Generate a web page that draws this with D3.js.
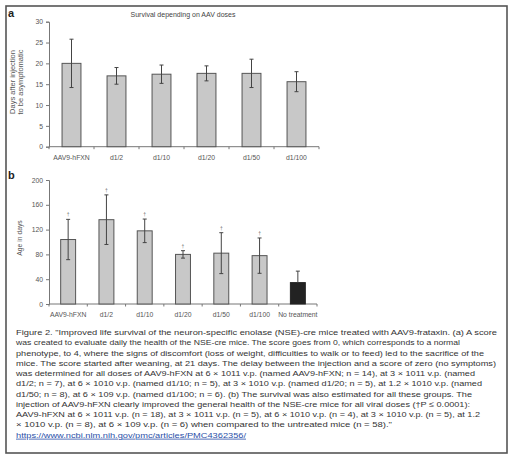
<!DOCTYPE html>
<html><head><meta charset="utf-8">
<script src="https://cdn.jsdelivr.net/npm/d3@7"></script>
<style>
html,body{margin:0;padding:0;background:#fff;}
svg{display:block;font-family:"Liberation Sans",Arial,sans-serif;}
</style></head>
<body>
<svg id="c" width="512" height="463"></svg>
<script>
// ---- data ----
const catsA = ["AAV9-hFXN","d1/2","d1/10","d1/20","d1/50","d1/100"];
const meanA = [20, 17.0, 17.4, 17.6, 17.6, 15.6];
const sdA   = [5.8, 2.0, 2.2, 1.8, 3.4, 2.4];
const ticksA = [0,5,10,15,20,25,30];

const catsB = ["AAV9-hFXN","d1/2","d1/10","d1/20","d1/50","d1/100","No treatment"];
const meanB = [104, 136, 118, 80, 82, 78, 34.5];
const sdB   = [32.5, 40, 19, 6, 33, 28.5, 18.5];
const sigB  = [true, true, true, true, true, true, false];
const ticksB = [0,40,80,120,160,200];

const captionLines = [
 'Figure 2. "Improved life survival of the neuron-specific enolase (NSE)-cre mice treated with AAV9-frataxin. (a) A score',
 'was created to evaluate daily the health of the NSE-cre mice. The score goes from 0, which corresponds to a normal',
 'phenotype, to 4, where the signs of discomfort (loss of weight, difficulties to walk or to feed) led to the sacrifice of the',
 'mice. The score started after weaning, at 21 days. The delay between the injection and a score of zero (no symptoms)',
 'was determined for all doses of AAV9-hFXN at 6 \u00d7 1011 v.p. (named AAV9-hFXN; n = 14), at 3 \u00d7 1011 v.p. (named',
 'd1/2; n = 7), at 6 \u00d7 1010 v.p. (named d1/10; n = 5), at 3 \u00d7 1010 v.p. (named d1/20; n = 5), at 1.2 \u00d7 1010 v.p. (named',
 'd1/50; n = 8), at 6 \u00d7 109 v.p. (named d1/100; n = 6). (b) The survival was also estimated for all these groups. The',
 'injection of AAV9-hFXN clearly improved the general health of the NSE-cre mice for all viral doses (\u2020P \u2264 0.0001):',
 'AAV9-hFXN at 6 \u00d7 1011 v.p. (n = 18), at 3 \u00d7 1011 v.p. (n = 5), at 6 \u00d7 1010 v.p. (n = 4), at 3 \u00d7 1010 v.p. (n = 5), at 1.2',
 '\u00d7 1010 v.p. (n = 8), at 6 \u00d7 109 v.p. (n = 6) when compared to the untreated mice (n = 58)."'
];
const captionWidths = [481,444,468,480,459,466,456,454,464,376];
const urlText = "https://www.ncbi.nlm.nih.gov/pmc/articles/PMC4362356/";

// ---- drawing ----
const svg = d3.select("#c");
svg.append("rect").attr("x",0).attr("y",0).attr("width",512).attr("height",463).attr("fill","#fff");
svg.append("rect").attr("x",6).attr("y",6).attr("width",501).attr("height",447)
  .attr("fill","none").attr("stroke","#555").attr("stroke-width",1.6);

const axisCol = "#777", txtCol = "#555";

function panel(cfg){
  const g = svg.append("g");
  const x = d3.scaleBand().domain(cfg.cats).range([cfg.x0,cfg.x1])
     .paddingInner(cfg.pad).paddingOuter(cfg.pad/2);
  const y = d3.scaleLinear().domain([0,cfg.ymax]).range([cfg.yb,cfg.yt]);
  const ya = g.append("g").attr("transform",`translate(${cfg.x0},0)`)
    .call(d3.axisLeft(y).tickValues(cfg.ticks).tickSize(3).tickPadding(3));
  ya.select(".domain").attr("stroke",axisCol);
  ya.selectAll(".tick line").attr("stroke",axisCol);
  ya.selectAll(".tick text").attr("fill",txtCol).style("font-size","6.8px")
    .style("font-family","Liberation Sans, Arial, sans-serif");
  const xa = g.append("g").attr("transform",`translate(0,${cfg.yb})`);
  xa.append("line").attr("x1",cfg.x0).attr("x2",cfg.x1).attr("y1",0).attr("y2",0).attr("stroke",axisCol);
  const bounds = cfg.cats.map((c)=>x(c)-x.step()*cfg.pad/2).concat([cfg.x1]);
  xa.selectAll("line.tk").data(bounds).join("line").attr("class","tk")
    .attr("x1",d=>d).attr("x2",d=>d).attr("y1",0).attr("y2",2.5).attr("stroke",axisCol);
  xa.selectAll("text").data(cfg.cats).join("text")
    .attr("x",d=>x(d)+x.bandwidth()/2).attr("y",cfg.labY-cfg.yb)
    .attr("text-anchor","middle").attr("fill",txtCol).style("font-size","6.8px").text(d=>d);
  g.selectAll("rect.bar").data(cfg.cats).join("rect").attr("class","bar")
    .attr("x",d=>x(d)).attr("width",x.bandwidth())
    .attr("y",(d,i)=>y(cfg.mean[i])).attr("height",(d,i)=>cfg.yb-y(cfg.mean[i]))
    .attr("fill",(d,i)=>cfg.dark&&cfg.dark[i]?"#222":"#c8c8c8")
    .attr("stroke",(d,i)=>cfg.dark&&cfg.dark[i]?"#222":"#555").attr("stroke-width",1);
  cfg.cats.forEach((c,i)=>{
    const cx = x(c)+x.bandwidth()/2;
    const hi = y(cfg.mean[i]+cfg.sd[i]);
    const lo = (cfg.dark&&cfg.dark[i]) ? y(cfg.mean[i]) : y(cfg.mean[i]-cfg.sd[i]);
    g.append("line").attr("x1",cx).attr("x2",cx).attr("y1",hi).attr("y2",lo).attr("stroke","#444").attr("stroke-width",1);
    g.append("line").attr("x1",cx-2).attr("x2",cx+2).attr("y1",hi).attr("y2",hi).attr("stroke","#444").attr("stroke-width",1);
    if(!(cfg.dark&&cfg.dark[i]))
      g.append("line").attr("x1",cx-2).attr("x2",cx+2).attr("y1",lo).attr("y2",lo).attr("stroke","#444").attr("stroke-width",1);
    if(cfg.sig && cfg.sig[i])
      g.append("text").attr("x",cx).attr("y",hi-3).attr("text-anchor","middle")
        .attr("fill","#666").style("font-size","5px").text("\u2020");
  });
  return g;
}

panel({cats:catsA, mean:meanA, sd:sdA, ticks:ticksA, ymax:30,
  x0:49, x1:319, pad:0.58, yb:146.7, yt:21.7, labY:160.5});
panel({cats:catsB, mean:meanB, sd:sdB, ticks:ticksB, ymax:200, sig:sigB,
  dark:[false,false,false,false,false,false,true],
  x0:49, x1:317, pad:0.61, yb:304, yt:180, labY:316.5});

svg.append("text").attr("x",183).attr("y",16.5).attr("text-anchor","middle")
  .attr("fill","#444").style("font-size","7px").text("Survival depending on AAV doses");
svg.append("text").attr("x",8).attr("y",16.5).style("font-size","11px").style("font-weight","bold")
  .attr("fill","#222").text("a");
svg.append("text").attr("x",8).attr("y",178.5).style("font-size","11px").style("font-weight","bold")
  .attr("fill","#222").text("b");
const yl = svg.append("text").attr("transform","translate(15,82) rotate(-90)")
  .attr("text-anchor","middle").attr("fill",txtCol).style("font-size","7.5px");
yl.append("tspan").attr("x",0).attr("dy",0).text("Days after injection");
yl.append("tspan").attr("x",0).attr("dy",7.5).text("to be asymptomatic");
svg.append("text").attr("transform","translate(22,238) rotate(-90)")
  .attr("text-anchor","middle").attr("fill",txtCol).style("font-size","6.8px").text("Age in days");

const cap = svg.append("g").style("font-size","8px").attr("fill","#333");
captionLines.forEach((t,i)=>{
  cap.append("text").attr("x",16).attr("y",335 + i*10.27)
    .attr("textLength",captionWidths[i]).attr("lengthAdjust","spacingAndGlyphs").text(t);
});
cap.append("text").attr("x",16).attr("y",335+10*10.27).attr("fill","#2a4fa8")
  .attr("text-decoration","underline").attr("textLength",230).attr("lengthAdjust","spacingAndGlyphs").text(urlText);
</script>
</body></html>
